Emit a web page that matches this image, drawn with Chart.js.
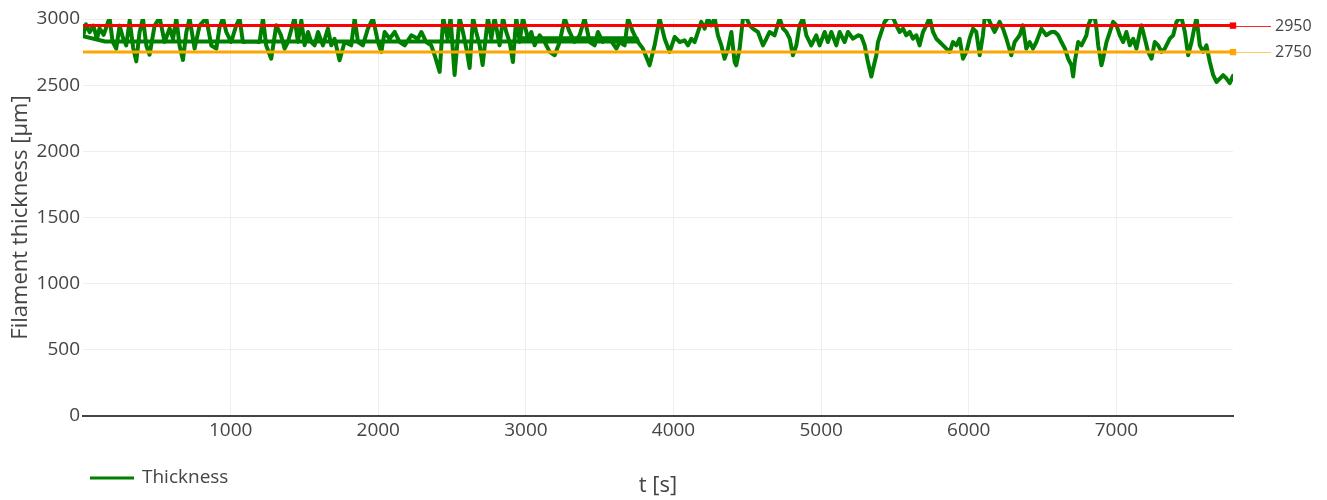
<!DOCTYPE html>
<html>
<head>
<meta charset="utf-8">
<title>Filament thickness</title>
<script src="https://cdn.jsdelivr.net/npm/chart.js@4.4.1/dist/chart.umd.min.js"></script>
<style>
  html, body { margin: 0; padding: 0; background: #fff; }
  canvas { display: block; }
</style>
</head>
<body>
<canvas id="chart" width="1327" height="500"></canvas>
<script>
// Time stamps [s] of the thickness log (the first four samples are an earlier pass of the log)
const timeS = [
  2980, 3750, 3760, 150,
  0, 20, 45, 70, 95, 112, 140, 180, 200, 225,
  248, 270, 293, 316, 340, 361, 383, 406, 429, 451,
  485, 519, 553, 587, 610, 632, 654, 677, 700, 722,
  756, 790, 835, 869, 903, 925, 948, 971, 1004, 1038,
  1061, 1083, 1140, 1196, 1219, 1241, 1275, 1309, 1340, 1366,
  1388, 1433, 1456, 1479, 1501, 1524, 1546, 1569, 1592, 1625,
  1659, 1682, 1704, 1738, 1772, 1817, 1840, 1863, 1896, 1930,
  1964, 1998, 2021, 2043, 2077, 2111, 2145, 2179, 2224, 2269,
  2292, 2325, 2359, 2382, 2416, 2440, 2470, 2490, 2517, 2551,
  2574, 2600, 2619, 2642, 2664, 2687, 2707, 2743, 2766, 2788,
  2822, 2845, 2867, 2890, 2912, 2935, 2958, 2980, 3014, 3037,
  3059, 3093, 3127, 3161, 3195, 3229, 3263, 3296, 3330, 3364,
  3398, 3432, 3466, 3488, 3522, 3567, 3613, 3635, 3669, 3692,
  3725, 3759, 3793, 3838, 3872, 3906, 3940, 3974, 4008, 4042,
  4075, 4098, 4121, 4143, 4166, 4188, 4211, 4234, 4256, 4279,
  4301, 4324, 4346, 4369, 4392, 4414, 4425, 4448, 4471, 4493,
  4516, 4538, 4572, 4606, 4629, 4651, 4685, 4719, 4742, 4764,
  4787, 4809, 4832, 4854, 4877, 4900, 4933, 4967, 4990, 5024,
  5046, 5069, 5103, 5125, 5159, 5182, 5216, 5250, 5272, 5295,
  5317, 5340, 5351, 5374, 5385, 5408, 5430, 5453, 5487, 5509,
  5532, 5555, 5577, 5600, 5622, 5645, 5667, 5690, 5713, 5735,
  5758, 5780, 5803, 5826, 5848, 5871, 5893, 5916, 5938, 5961,
  5984, 6006, 6029, 6051, 6074, 6096, 6108, 6130, 6153, 6175,
  6209, 6232, 6255, 6288, 6311, 6345, 6367, 6390, 6413, 6435,
  6458, 6492, 6525, 6559, 6583, 6606, 6628, 6651, 6673, 6696,
  6707, 6718, 6741, 6764, 6797, 6809, 6831, 6854, 6865, 6877,
  6899, 6910, 6933, 6956, 6978, 7001, 7023, 7046, 7068, 7091,
  7114, 7136, 7159, 7170, 7193, 7215, 7238, 7260, 7283, 7306,
  7328, 7362, 7385, 7407, 7430, 7441, 7464, 7486, 7509, 7531,
  7543, 7565, 7588, 7610, 7633, 7656, 7678, 7701, 7723, 7746,
  7768, 7790
];

// Measured filament thickness [µm]
const thicknessUm = [
  2855, 2855, 2830, 2830,
  2870, 2960, 2900, 2950, 2850, 2930, 2880, 3010, 2830, 2776,
  2950, 2860, 2800, 2990, 2780, 2680, 2900, 3005, 2800, 2730,
  2950, 3010, 2826, 2930, 2850, 3005, 2800, 2690, 2900, 3005,
  2776, 2952, 3005, 2800, 2776, 2940, 3005, 2900, 2826, 2952,
  3005, 2826, 2830, 2826, 3005, 2800, 2700, 2952, 2880, 2776,
  2826, 3010, 2826, 2990, 2801, 2902, 2826, 2801, 2902, 2801,
  2927, 2801, 2851, 2688, 2826, 2801, 3005, 2826, 2801, 2927,
  3005, 2826, 2751, 2902, 2851, 2902, 2826, 2801, 2877, 2851,
  2902, 2826, 2801, 2726, 2600, 3010, 2850, 3010, 2577, 3010,
  2900, 2760, 2630, 3010, 2900, 2801, 2653, 3010, 2851, 3010,
  2801, 3010, 2902, 2826, 2675, 3010, 2826, 3010, 2851, 2902,
  2801, 2877, 2826, 2751, 2726, 2826, 3005, 2902, 2826, 2877,
  3005, 2826, 2801, 2902, 2826, 2851, 2776, 2826, 2801, 3005,
  2902, 2826, 2776, 2650, 2801, 3005, 2851, 2751, 2864, 2826,
  2839, 2801, 2851, 2826, 2902, 2978, 2927, 3005, 2952, 3005,
  2877, 2801, 2700, 2776, 2902, 2675, 2650, 2776, 3010, 3010,
  2952, 2927, 2902, 2801, 2851, 2902, 2877, 3005, 2927, 2902,
  2851, 2726, 2801, 2952, 3005, 2877, 2801, 2877, 2801, 2902,
  2826, 2902, 2801, 2902, 2826, 2902, 2851, 2877, 2870, 2801,
  2675, 2565, 2620, 2726, 2826, 2902, 2978, 3010, 3010, 2952,
  2902, 2927, 2877, 2902, 2851, 2877, 2801, 2902, 2952, 3010,
  2902, 2851, 2826, 2801, 2776, 2751, 2826, 2801, 2851, 2700,
  2751, 2851, 2927, 2902, 2726, 2877, 3010, 3010, 2952, 2902,
  2978, 2927, 2851, 2726, 2826, 2877, 2952, 2776, 2826, 2776,
  2826, 2927, 2877, 2902, 2902, 2877, 2826, 2776, 2700, 2650,
  2565, 2675, 2826, 2801, 2877, 2952, 3010, 3010, 2927, 2801,
  2650, 2700, 2826, 2902, 2978, 2952, 2877, 2826, 2902, 2801,
  2851, 2776, 2902, 2952, 2851, 2751, 2700, 2826, 2801, 2751,
  2776, 2851, 2877, 2978, 3010, 3010, 2902, 2726, 2826, 2952,
  3010, 2801, 2751, 2801, 2675, 2575, 2524, 2550, 2575, 2550,
  2515, 2570
];

// Tolerance limits [µm]
const upperLimit = 2950;
const lowerLimit = 2750;

// Axis extents and tick values
const tStart = 0;
const tEnd = 7790;
const xTickValues = [1000, 2000, 3000, 4000, 5000, 6000, 7000];
const yTickValues = [0, 500, 1000, 1500, 2000, 2500, 3000];

const FONT = '"Open Sans", "DejaVu Sans", sans-serif';
const TEXT = '#444';

const thicknessPoints = timeS.map((t, i) => ({ x: t, y: thicknessUm[i] }));
const limitLine = v => [{ x: tStart, y: v }, { x: tEnd, y: v }];

const limits = [
  { value: upperLimit, color: '#ff0000', lead: 'rgba(255,0,0,0.85)' },
  { value: lowerLimit, color: '#ffa500', lead: 'rgba(255,165,0,0.6)' }
];

// Limit labels to the right of the plot and the legend under the axis
const overlay = {
  id: 'overlay',
  afterDatasetsDraw(chart) {
    const { ctx, scales: { x, y } } = chart;
    const xEnd = x.getPixelForValue(tEnd);
    ctx.save();
    limits.forEach(l => {
      const py = Math.round(y.getPixelForValue(l.value)) + 0.5;
      ctx.strokeStyle = l.lead;
      ctx.lineWidth = 1;
      ctx.beginPath();
      ctx.moveTo(xEnd + 3, py);
      ctx.lineTo(xEnd + 38, py);
      ctx.stroke();
      ctx.fillStyle = TEXT;
      ctx.font = '16px ' + FONT;
      ctx.textAlign = 'left';
      ctx.textBaseline = 'middle';
      ctx.fillText(String(l.value), xEnd + 42, py);
    });

    // legend
    const ly = 478;
    ctx.strokeStyle = '#008000';
    ctx.lineWidth = 3;
    ctx.beginPath();
    ctx.moveTo(90, ly);
    ctx.lineTo(134, ly);
    ctx.stroke();
    ctx.fillStyle = TEXT;
    ctx.font = '19px ' + FONT;
    ctx.textAlign = 'left';
    ctx.textBaseline = 'middle';
    ctx.fillText('Thickness', 142, ly);
    ctx.restore();
  }
};

new Chart(document.getElementById('chart'), {
  type: 'line',
  data: {
    datasets: [
      {
        label: 'Upper limit',
        data: limitLine(upperLimit),
        borderColor: '#ff0000',
        backgroundColor: '#ff0000',
        borderWidth: 3,
        pointStyle: 'rect',
        pointRadius: [0, 4.5],
        pointBorderWidth: 0,
        clip: false
      },
      {
        label: 'Lower limit',
        data: limitLine(lowerLimit),
        borderColor: '#ffa500',
        backgroundColor: '#ffa500',
        borderWidth: 3,
        pointStyle: 'rect',
        pointRadius: [0, 4.5],
        pointBorderWidth: 0,
        clip: false
      },
      {
        label: 'Thickness',
        data: thicknessPoints,
        borderColor: '#008000',
        borderWidth: 4,
        borderJoinStyle: 'round',
        borderCapStyle: 'round',
        pointRadius: 0,
        tension: 0
      }
    ]
  },
  options: {
    responsive: false,
    animation: false,
    events: [],
    layout: { padding: { left: 0, right: 94, top: 19, bottom: 0 } },
    plugins: {
      legend: { display: false },
      tooltip: { enabled: false }
    },
    scales: {
      x: {
        type: 'linear',
        min: tStart,
        max: tEnd,
        afterBuildTicks: scale => {
          scale.ticks = xTickValues.map(v => ({ value: v }));
        },
        afterFit: scale => { scale.height = 84; },
        ticks: {
          autoSkip: false,
          maxRotation: 0,
          padding: 3,
          color: TEXT,
          font: { family: FONT, size: 19 },
          callback: v => String(v)
        },
        grid: { color: '#eeeeee', lineWidth: 1, drawTicks: false },
        border: { display: true, color: '#444444', width: 2 },
        title: {
          display: true,
          text: 't [s]',
          color: TEXT,
          font: { family: FONT, size: 22 },
          padding: { top: 0, bottom: 1 }
        }
      },
      y: {
        type: 'linear',
        min: 0,
        max: 3000,
        afterBuildTicks: scale => {
          scale.ticks = yTickValues.map(v => ({ value: v }));
        },
        afterFit: scale => { scale.width = 83; },
        ticks: {
          padding: 3,
          color: TEXT,
          font: { family: FONT, size: 19 },
          callback: v => String(v)
        },
        grid: {
          color: c => (c.tick && c.tick.value === 0) ? 'rgba(0,0,0,0)' : '#eeeeee',
          lineWidth: 1,
          drawTicks: false
        },
        border: { display: false },
        title: {
          display: true,
          text: 'Filament thickness [µm]',
          color: TEXT,
          font: { family: FONT, size: 22 },
          padding: { top: 8, bottom: 0 }
        }
      }
    }
  },
  plugins: [overlay]
});
</script>
</body>
</html>
